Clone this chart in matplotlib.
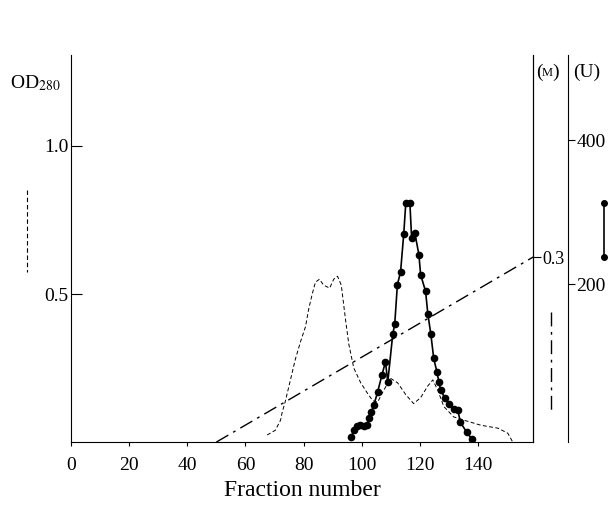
import matplotlib
matplotlib.use("Agg")
import matplotlib.pyplot as plt
from matplotlib.lines import Line2D

plt.rcParams['font.family'] = ['Liberation Serif', 'DejaVu Serif']
plt.rcParams['mathtext.fontset'] = 'stix'

# OD280 (dashed)
od_frac = [67.5, 70.3, 72.1, 72.6, 73.8, 75.5, 77.2, 79, 80.7, 81.8, 83, 84.1,
           85.5, 86.9, 89, 90.4, 91.7, 93, 94.5, 95.6, 97.3, 99.7, 102, 103.8,
           105.5, 107.6, 110, 112.4, 115.2, 117.9, 120.3, 122.8, 124.5, 126.2,
           128.3, 131.7, 135.2, 141, 146.9, 150.3, 152]
od_val = [0.024, 0.04, 0.074, 0.098, 0.14, 0.21, 0.28, 0.34, 0.39, 0.45, 0.50, 0.54,
          0.55, 0.53, 0.52, 0.55, 0.56, 0.53, 0.41, 0.33, 0.25, 0.20, 0.165, 0.14,
          0.135, 0.175, 0.215, 0.20, 0.16, 0.13, 0.15, 0.19, 0.21, 0.175,
          0.12, 0.085, 0.074, 0.057, 0.047, 0.03, 0.0]

# activity (U), solid with dots
act_frac = [96.5, 97.3, 98.3, 99.5, 100.8, 101.8, 102.5, 103.3, 104.2, 105.5,
            107, 108.2, 109, 110.7, 111.4, 112.3, 113.4, 114.5, 115.2, 116.6,
            117.2, 118.3, 119.7, 120.3, 122, 122.8, 123.8, 124.8, 125.9, 126.6,
            127.2, 128.6, 130, 131.7, 133.1, 134, 136.2, 137.9]
act_val = [-13, -2, 3, 4, 3, 5, 14, 22, 32, 50,
           74, 92, 64, 130, 145, 199, 217, 270, 313, 313,
           264, 271, 241, 213, 190, 158, 131, 97, 78, 64,
           53, 42, 34, 27, 25, 8, -6, -15]

# salt gradient (M)
grad_frac = [50, 159]
grad_val = [0.0, 0.3]

fig = plt.figure(figsize=(6.08, 5.07), dpi=100)
ax = fig.add_axes([0.1168, 0.128, 0.76, 0.7635])

ax.plot(od_frac, od_val, color='black', lw=0.7, ls=(0, (4, 2.5)))
ax.set_xlim(0, 159)
ax.set_ylim(0, 1.307)
ax.set_xticks([0, 20, 40, 60, 80, 100, 120, 140])
ax.set_yticks([0.5, 1.0])
ax.set_yticklabels(['0.5', '1.0'])
ax.tick_params(axis='y', direction='in', length=8, labelsize=14, pad=2)
ax.tick_params(axis='x', direction='out', length=3, labelsize=14, pad=8)
ax.spines['top'].set_visible(False)
ax.set_xlabel('Fraction number', fontsize=17, labelpad=4)

# M axis
axm = ax.twinx()
axm.plot(grad_frac, grad_val, color='black', lw=1.0, ls=(0, (10, 4, 2, 4)))
axm.set_ylim(0, 0.6276)
axm.set_yticks([0.3])
axm.set_yticklabels(['0.3'])
axm.tick_params(axis='y', direction='out', length=6, labelsize=13, pad=1)
for s in ['top', 'left', 'bottom']:
    axm.spines[s].set_visible(False)

# U axis
axu = ax.twinx()
axu.spines['right'].set_position(('axes', 1.0758))
axu.plot(act_frac, act_val, color='black', lw=1.2, marker='o', ms=4.5)
axu.set_ylim(-19.4, 518)
axu.set_yticks([200, 400])
axu.set_yticklabels(['200', '400'])
axu.tick_params(axis='y', direction='out', length=5, labelsize=14, pad=1)
for s in ['top', 'left', 'bottom']:
    axu.spines[s].set_visible(False)

# axis titles
fig.text(0.058, 0.836, r'OD$_{\rm 280}$', fontsize=14, ha='center', va='center')
fig.text(0.8865, 0.858, '(', fontsize=14, ha='center', va='center')
fig.text(0.9, 0.856, 'M', fontsize=9, ha='center', va='center')
fig.text(0.9135, 0.858, ')', fontsize=14, ha='center', va='center')
fig.text(0.965, 0.858, '(U)', fontsize=14, ha='center', va='center')

# legend keys
fig.add_artist(Line2D([27 / 608, 27 / 608], [1 - 190 / 507, 1 - 272 / 507],
                      color='black', lw=0.8, ls=(0, (4, 2.5))))
fig.add_artist(Line2D([604 / 608, 604 / 608], [1 - 203 / 507, 1 - 257 / 507],
                      color='black', lw=1.2, marker='o', ms=4))
fig.add_artist(Line2D([551 / 608, 551 / 608], [1 - 312 / 507, 1 - 413 / 507],
                      color='black', lw=1.0, ls=(0, (10, 4, 2, 4))))

fig.savefig('out.png', dpi=100)
